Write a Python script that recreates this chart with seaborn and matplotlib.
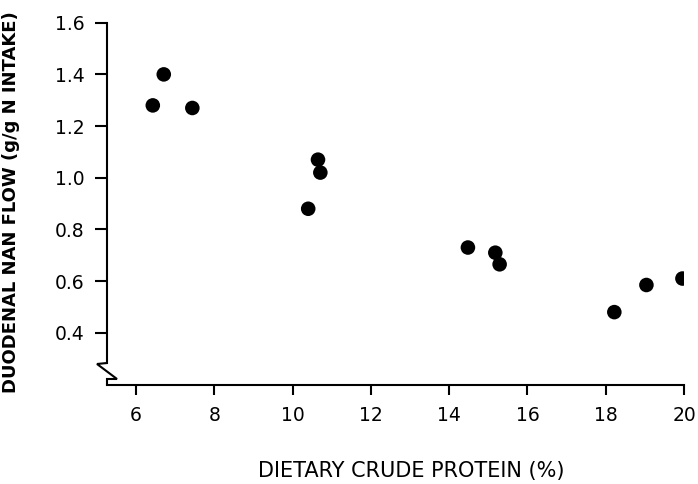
import matplotlib
matplotlib.use("Agg")
import matplotlib.pyplot as plt
import seaborn as sns
import pandas as pd
from matplotlib.lines import Line2D

# Data
crude_protein = [6.43, 6.71, 7.44, 10.65, 10.71, 10.40, 14.48, 15.18, 15.29, 18.22, 19.04, 19.96]
nan_flow = [1.28, 1.40, 1.27, 1.07, 1.02, 0.88, 0.73, 0.71, 0.665, 0.48, 0.585, 0.61]
x_ticks = [6, 8, 10, 12, 14, 16, 18, 20]
y_ticks = [0.4, 0.6, 0.8, 1.0, 1.2, 1.4, 1.6]

df = pd.DataFrame({"cp": crude_protein, "nan": nan_flow})

sns.set_theme(style="ticks")
plt.rcParams["font.family"] = ["DejaVu Sans"]

fig = plt.figure(figsize=(6.98, 4.84), dpi=100)
ax = fig.add_axes([107 / 698, 1 - 385 / 484, 577 / 698, 362.3 / 484])

sns.scatterplot(data=df, x="cp", y="nan", ax=ax, color="black", s=110,
                edgecolor="none", linewidth=0, zorder=3)

ax.set_xlim(5.26, 20.0)
ax.set_ylim(0.198, 1.6)
ax.set_xticks(x_ticks)
ax.set_xticklabels([str(t) for t in x_ticks])
ax.set_yticks(y_ticks)
ax.set_yticklabels([f"{t:.1f}" for t in y_ticks])

for s in ["top", "right"]:
    ax.spines[s].set_visible(False)
for s in ["left", "bottom"]:
    ax.spines[s].set_linewidth(1.5)
    ax.spines[s].set_color("black")
ax.spines["left"].set_bounds(0.2835, 1.6)

ax.tick_params(axis="x", direction="out", length=7, width=1.5, pad=8,
               labelsize=13.5, colors="black")
ax.tick_params(axis="y", direction="out", length=9, width=1.5, pad=7,
               labelsize=13.5, colors="black")

# axis break zigzag
bx = [0, -0.0173, 0.0173, 0, 0]
by = [0.0607, 0.058, 0.0166, 0.0166, 0]
ax.add_line(Line2D(bx, by, transform=ax.transAxes, color="black", lw=1.5,
                   clip_on=False, solid_joinstyle="miter"))

ax.set_ylabel("DUODENAL NAN FLOW (g/g N INTAKE)", fontsize=13, fontweight="bold",
              color="black")
ax.yaxis.set_label_coords(-0.151, 0.505)
ax.set_xlabel("DIETARY CRUDE PROTEIN (%)", fontsize=15, color="black")
ax.xaxis.set_label_coords(0.527, -0.21)

fig.savefig("out.png", dpi=100)
